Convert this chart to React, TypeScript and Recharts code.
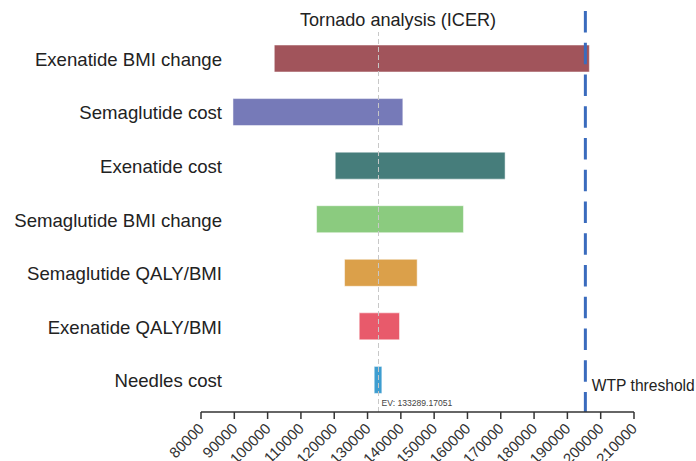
import React from "react";
import { BarChart, Bar, XAxis, YAxis, Cell, ReferenceLine } from "recharts";

const categories = [
  "Exenatide BMI change",
  "Semaglutide cost",
  "Exenatide cost",
  "Semaglutide BMI change",
  "Semaglutide QALY/BMI",
  "Exenatide QALY/BMI",
  "Needles cost",
];
const lowValues = [102000, 89600, 120300, 114700, 123100, 127500, 132000];
const highValues = [196600, 140600, 171300, 158800, 144900, 139600, 134300];
const barColors = ["#a1545b", "#767ab8", "#467d7b", "#8bcb7f", "#dba04a", "#e85a6b", "#3d9dd0"];
const xTicks = [80000, 90000, 100000, 110000, 120000, 130000, 140000, 150000, 160000, 170000, 180000, 190000, 200000, 210000];
const baseValue = 133289.17051;
const wtpValue = 195400;
const title = "Tornado analysis (ICER)";

const data = categories.map((name, i) => ({ name, range: [lowValues[i], highValues[i]] }));

const FONT = "'Liberation Sans', Arial, Helvetica, sans-serif";

const YTick = (props: any) => {
  const { y, payload } = props;
  return (
    <text x={222} y={y + 7} textAnchor="end" fontSize={18.6} fontFamily={FONT} fill="#222">
      {payload.value}
    </text>
  );
};

const XTick = (props: any) => {
  const { x, y, payload } = props;
  const ax = x + 4;
  const ay = y + 8.5;
  return (
    <text x={ax} y={ay} textAnchor="end" fontSize={15} fontFamily={FONT} fill="#333" transform={`rotate(-45, ${ax}, ${ay})`}>
      {payload.value}
    </text>
  );
};

const WtpShape = (props: any) => {
  const { x1, y1, x2, y2 } = props;
  const top = Math.min(y1, y2) - 21;
  const bottom = Math.max(y1, y2);
  return <line x1={x1} x2={x2} y1={top} y2={bottom} stroke="#3a6bbd" strokeWidth={3} strokeDasharray="21.5 10.25" />;
};

const WtpLabel = (props: any) => {
  const vb = props.viewBox || {};
  return (
    <text x={vb.x + 6.5} y={vb.y + vb.height - 21.5} fontSize={15.6} fontFamily={FONT} fill="#222">
      WTP threshold
    </text>
  );
};

const EvLabel = (props: any) => {
  const vb = props.viewBox || {};
  return (
    <text x={vb.x + 3} y={vb.y + vb.height - 6} fontSize={8.6} fontFamily={FONT} fill="#444">
      {`EV: ${baseValue}`}
    </text>
  );
};

export default function App() {
  return (
    <div style={{ position: "absolute", left: 0, top: 0, width: 696, height: 461, background: "#fff" }}>
      <div
        style={{
          position: "absolute",
          left: 300,
          top: 9,
          fontSize: 18.1,
          fontFamily: FONT,
          color: "#222",
          whiteSpace: "nowrap",
          lineHeight: "22px",
        }}
      >
        {title}
      </div>
      <BarChart
        width={696}
        height={461}
        data={data}
        layout="vertical"
        margin={{ top: 32, right: 62, left: 0, bottom: 0 }}
        barSize={27}
      >
        <XAxis
          type="number"
          domain={[80000, 210000]}
          ticks={xTicks}
          interval={0}
          allowDataOverflow
          height={49}
          tickSize={7}
          axisLine={{ stroke: "#333", strokeWidth: 1.5 }}
          tickLine={{ stroke: "#333", strokeWidth: 1.5 }}
          tick={<XTick />}
        />
        <YAxis
          type="category"
          dataKey="name"
          width={201}
          axisLine={false}
          tickLine={false}
          padding={{ top: 0, bottom: 5 }}
          tick={<YTick />}
          interval={0}
        />
        <ReferenceLine x={baseValue} stroke="#c8c8c8" strokeWidth={1} strokeDasharray="5 3" label={<EvLabel />} />
        <Bar dataKey="range" isAnimationActive={false} stroke="rgba(255,255,255,0.5)" strokeWidth={1}>
          {data.map((d, i) => (
            <Cell key={d.name} fill={barColors[i]} />
          ))}
        </Bar>
        <ReferenceLine x={wtpValue} stroke="#3a6bbd" shape={<WtpShape />} label={<WtpLabel />} ifOverflow="visible" />
      </BarChart>
    </div>
  );
}
